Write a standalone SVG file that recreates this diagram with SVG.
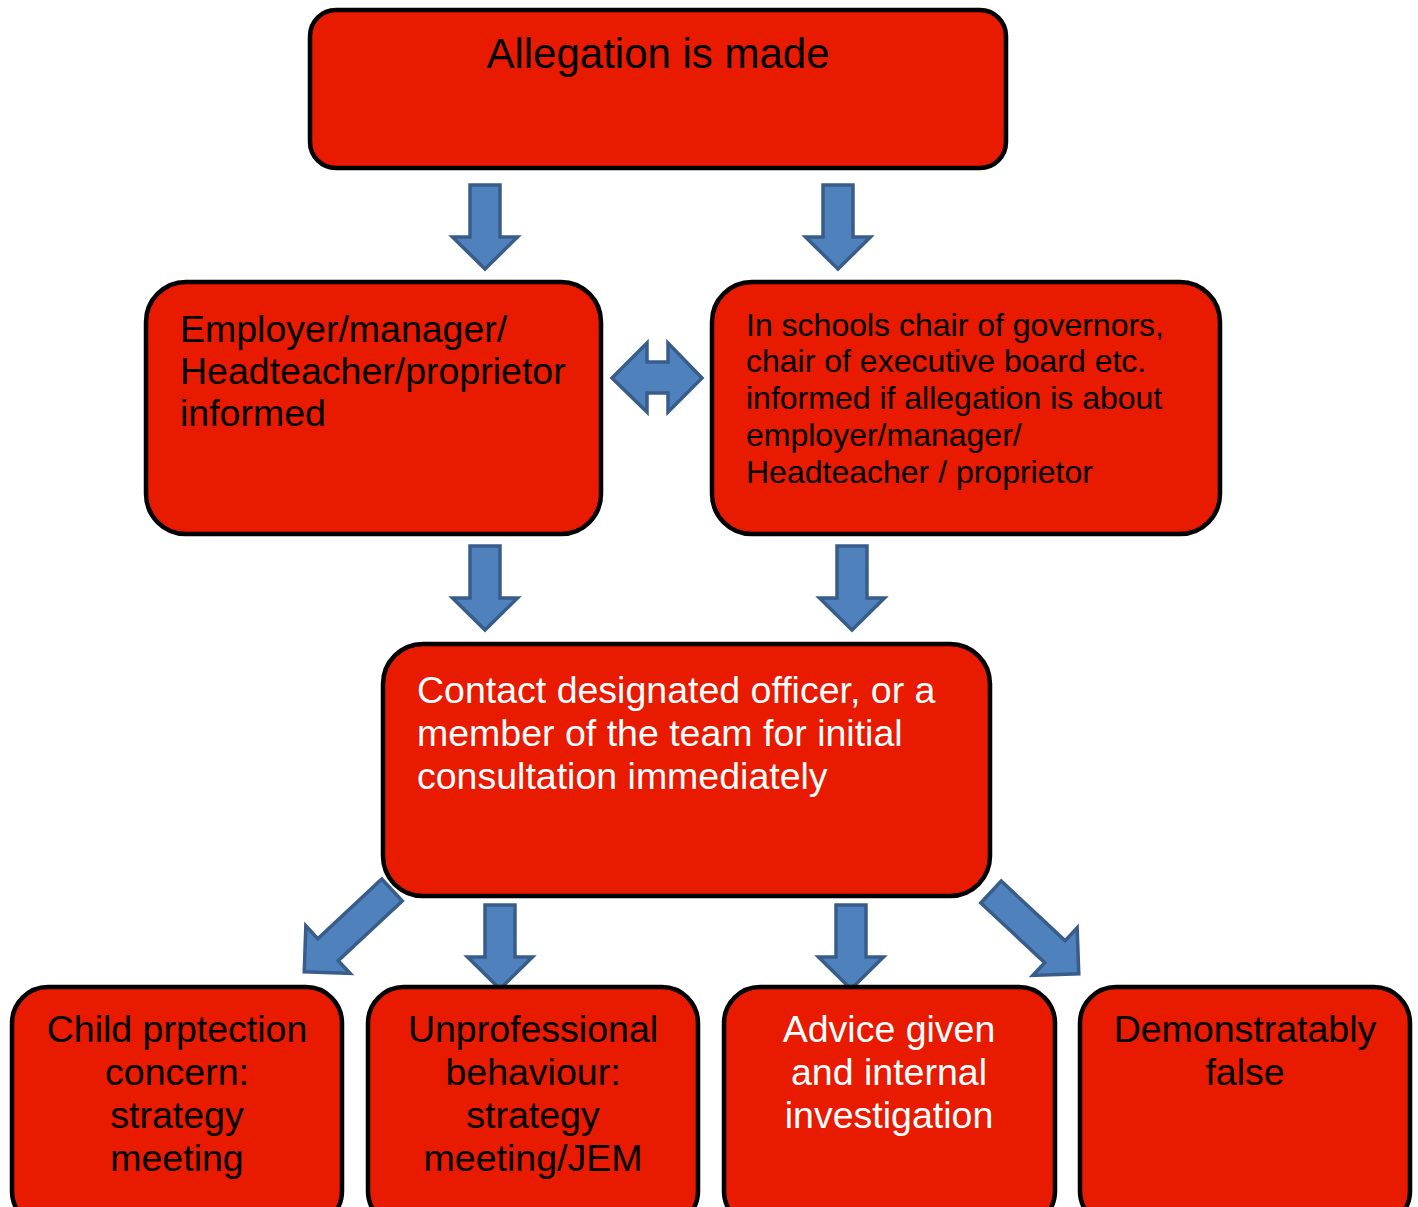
<svg xmlns="http://www.w3.org/2000/svg" width="1418" height="1207" viewBox="0 0 1418 1207">
<style>
.box{fill:#E81A00;stroke:#000;stroke-width:4.5}
.arr{fill:#4F81BD;stroke:#385D8A;stroke-width:3.5;stroke-linejoin:miter}
text{font-family:"Liberation Sans",Arial,sans-serif;font-size:37.5px;fill:#000}
.w{fill:#fff}
.c{text-anchor:middle}
.s{font-size:32px}
</style>
<defs>
<path id="dn" d="M-15,0 H15 V52 H32.5 L0,84 L-32.5,52 H-15 Z"/>
<path id="rt" d="M0,-15 H87.5 V-32.5 L120,0 L87.5,32.5 V15 H0 Z"/>
</defs>
<rect width="1418" height="1207" fill="#fff"/>
<g id="connectors">
<use href="#dn" class="arr" x="485" y="185"/>
<use href="#dn" class="arr" x="838" y="185"/>
<path class="arr" d="M612,378 L647,343 V362 H668 V343 L702,378 L668,412 V393 H647 V412 Z"/>
<use href="#dn" class="arr" x="485" y="546"/>
<use href="#dn" class="arr" x="852" y="546"/>
<use href="#rt" class="arr" transform="translate(392,890) rotate(137)"/>
<use href="#dn" class="arr" x="500" y="905"/>
<use href="#dn" class="arr" x="851" y="905"/>
<use href="#rt" class="arr" transform="translate(991,892) rotate(43)"/>
</g>
<g id="n1"><rect class="box" x="310" y="10" width="696" height="158" rx="26"/><text class="c" x="658" y="68" style="font-size:42px">Allegation is made</text></g>
<g id="n2"><rect class="box" x="146" y="282" width="455" height="252" rx="40"/><text x="180" y="342">Employer/manager/</text><text x="180" y="384">Headteacher/proprietor</text><text x="180" y="426">informed</text></g>
<g id="n3"><rect class="box" x="712" y="282" width="508" height="252" rx="40"/><text class="s" x="746" y="336">In schools chair of governors,</text><text class="s" x="746" y="372">chair of executive board etc.</text><text class="s" x="746" y="409">informed if allegation is about</text><text class="s" x="746" y="446">employer/manager/</text><text class="s" x="746" y="483">Headteacher / proprietor</text></g>
<g id="n4"><rect class="box" x="383" y="644" width="607" height="252" rx="40"/><text class="w" x="417" y="703">Contact designated officer, or a</text><text class="w" x="417" y="746">member of the team for initial</text><text class="w" x="417" y="789">consultation immediately</text></g>
<g id="n5"><rect class="box" x="12" y="987" width="330" height="240" rx="36"/><text class="c" x="177" y="1042">Child prptection</text><text class="c" x="177" y="1085">concern:</text><text class="c" x="177" y="1128">strategy</text><text class="c" x="177" y="1171">meeting</text></g>
<g id="n6"><rect class="box" x="368" y="987" width="330" height="240" rx="36"/><text class="c" x="533" y="1042">Unprofessional</text><text class="c" x="533" y="1085">behaviour:</text><text class="c" x="533" y="1128">strategy</text><text class="c" x="533" y="1171">meeting/JEM</text></g>
<g id="n7"><rect class="box" x="724" y="987" width="331" height="240" rx="36"/><text class="c w" x="889" y="1042">Advice given</text><text class="c w" x="889" y="1085">and internal</text><text class="c w" x="889" y="1128">investigation</text></g>
<g id="n8"><rect class="box" x="1080" y="987" width="330" height="240" rx="36"/><text class="c" x="1245" y="1042">Demonstratably</text><text class="c" x="1245" y="1085">false</text></g>
</svg>
